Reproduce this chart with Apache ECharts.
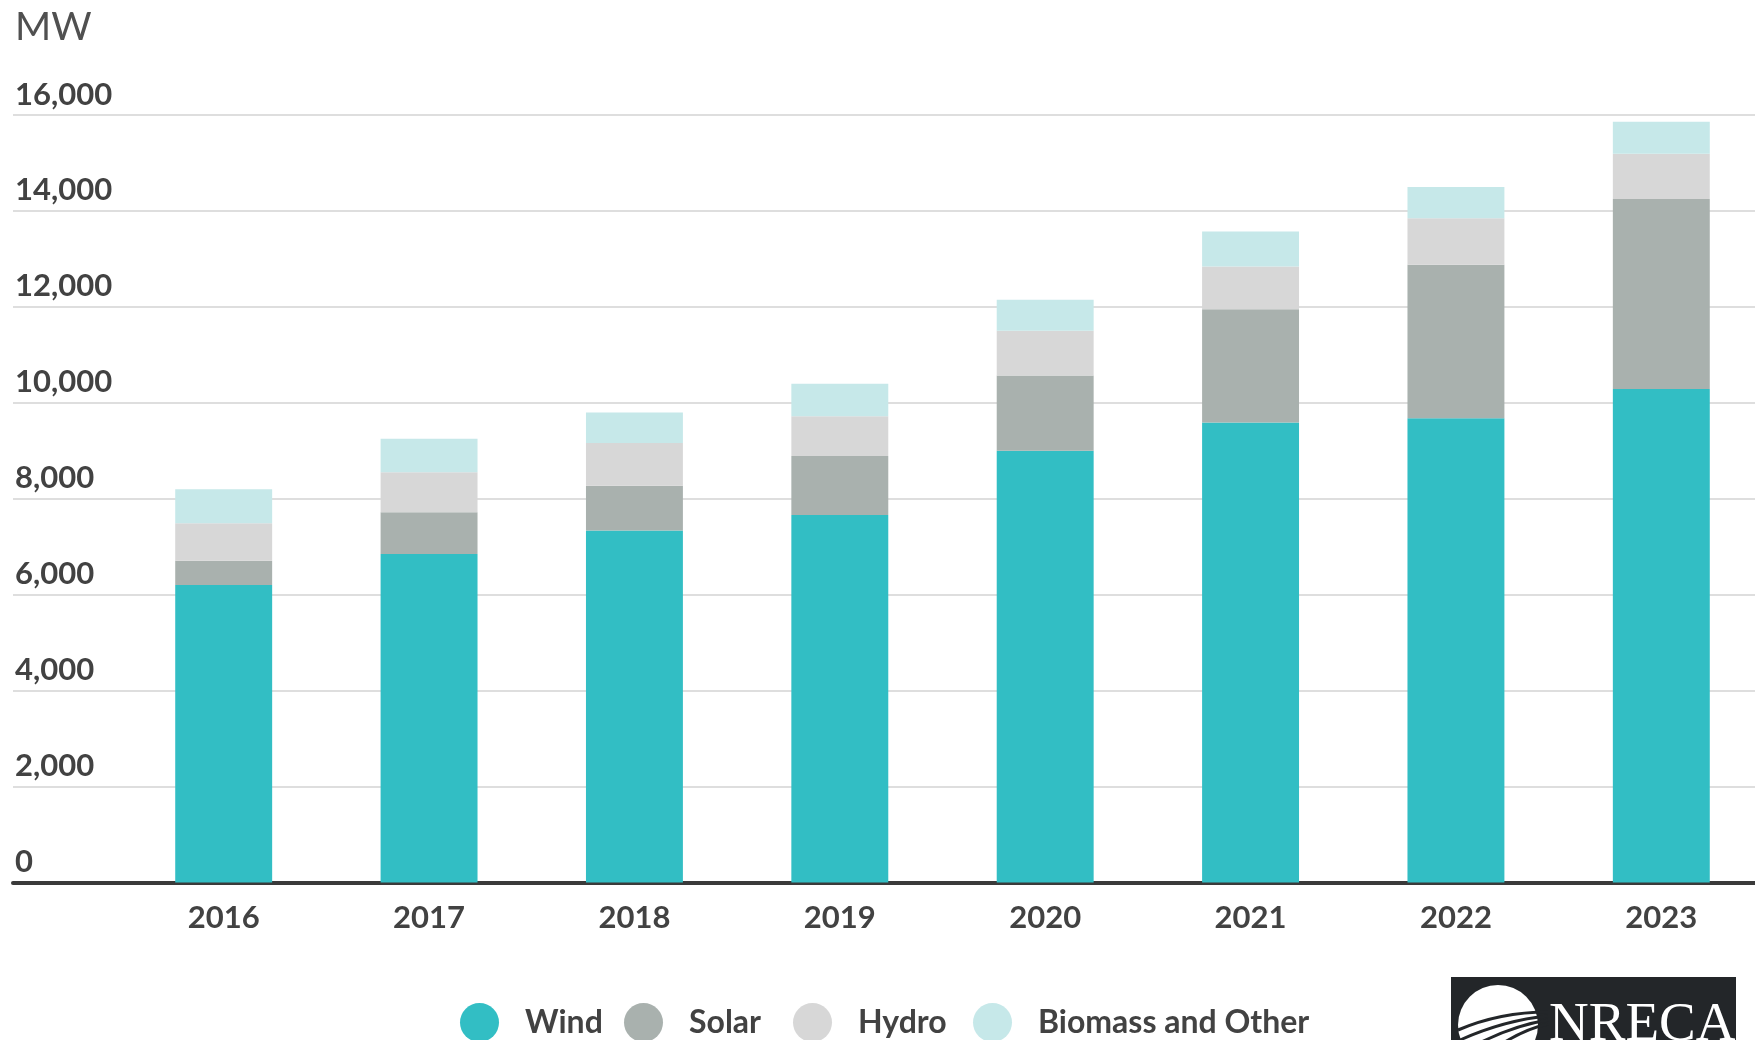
<!DOCTYPE html>
<html>
<head>
<meta charset="utf-8">
<script src="https://cdn.jsdelivr.net/npm/echarts@6/dist/echarts.min.js"></script>
<style>
html,body{margin:0;padding:0;background:#fff;overflow:hidden;width:1755px;height:1040px;}
#chart{width:1764px;height:1040px;}
</style>
</head>
<body>
<div id="chart"></div>
<script>
const years = ['2016','2017','2018','2019','2020','2021','2022','2023'];
const wind    = [6200, 6850, 7340, 7660, 9000, 9590, 9680, 10290];
const solar   = [510, 870, 930, 1230, 1570, 2360, 3200, 3960];
const hydro   = [780, 830, 890, 830, 930, 890, 970, 940];
const biomass = [710, 700, 640, 680, 650, 730, 650, 670];
const seriesNames = ['Wind', 'Solar', 'Hydro', 'Biomass and Other'];
const yTicks = {min: 0, max: 16000, interval: 2000};
const unitLabel = 'MW';

const colors = ['#32bec4', '#a9b1ae', '#d7d7d7', '#c6e8e9'];
const FONT = 'Lato, "Noto Sans", sans-serif';
const TEXT = '#424242';

const chart = echarts.init(document.getElementById('chart'), null, {renderer: 'canvas'});

const seriesData = [wind, solar, hydro, biomass];
const series = seriesNames.map((name, i) => ({
  name: name,
  type: 'bar',
  stack: 'total',
  xAxisIndex: 0,
  yAxisIndex: 0,
  barWidth: '47.2%',
  itemStyle: {color: colors[i]},
  emphasis: {disabled: true},
  data: seriesData[i],
  z: 3
}));

const legendLefts = [460, 624, 793, 973];
const legends = seriesNames.map((name, i) => ({
  data: [name],
  left: legendLefts[i],
  top: 1003,
  padding: 0,
  icon: 'circle',
  itemWidth: 39,
  itemHeight: 39,
  selectedMode: false,
  textStyle: {fontFamily: FONT, fontSize: 32, fontWeight: 'bold', color: TEXT, padding: [0, 0, 0, 21]}
}));

const option = {
  animation: false,
  backgroundColor: '#ffffff',
  title: {
    text: unitLabel,
    left: 10,
    top: 3,
    textStyle: {fontFamily: FONT, fontSize: 39, fontWeight: 'normal', color: '#505050'}
  },
  legend: legends,
  grid: [
    {left: 121, right: 0, top: 115, height: 767.5, containLabel: false},
    {left: 13, right: 0, top: 115, height: 767.5, containLabel: false}
  ],
  xAxis: [
    {
      type: 'category', gridIndex: 0, data: years,
      axisLine: {show: false}, axisTick: {show: false},
      axisLabel: {fontFamily: FONT, fontSize: 31, fontWeight: 'bold', color: TEXT, margin: 20}
    },
    {
      type: 'value', gridIndex: 1, min: 0, max: 1,
      axisLine: {show: true, onZero: false, lineStyle: {color: '#3a3a3a', width: 4}},
      axisTick: {show: false}, axisLabel: {show: false}, splitLine: {show: false}
    }
  ],
  yAxis: [
    {
      type: 'value', gridIndex: 0, min: yTicks.min, max: yTicks.max, interval: yTicks.interval,
      show: false, splitLine: {show: false}
    },
    {
      type: 'value', gridIndex: 1, min: yTicks.min, max: yTicks.max, interval: yTicks.interval,
      axisLine: {show: false}, axisTick: {show: false},
      splitLine: {show: true, lineStyle: {color: '#dedede', width: 2}},
      axisLabel: {
        inside: true, margin: 2, align: 'left', verticalAlign: 'bottom',
        padding: [0, 0, 5, 0],
        fontFamily: FONT, fontSize: 31, fontWeight: 'bold', color: TEXT,
        formatter: v => v.toLocaleString('en-US')
      }
    }
  ],
  graphic: [
    {type: 'rect', shape: {x: 1451, y: 977, width: 285, height: 70}, style: {fill: '#232629'}, z: 10},
    {type: 'circle', shape: {cx: 1498, cy: 1025, r: 40}, style: {fill: '#ffffff'}, z: 11},
    {type: 'bezierCurve', shape: {x1: 1458, y1: 1030, cpx1: 1500, cpy1: 1012, x2: 1548, y2: 1012}, style: {stroke: '#232629', lineWidth: 3, fill: null}, z: 12},
    {type: 'bezierCurve', shape: {x1: 1460, y1: 1040, cpx1: 1505, cpy1: 1020, x2: 1548, y2: 1016}, style: {stroke: '#232629', lineWidth: 3, fill: null}, z: 12},
    {type: 'bezierCurve', shape: {x1: 1470, y1: 1048, cpx1: 1510, cpy1: 1026, x2: 1548, y2: 1020}, style: {stroke: '#232629', lineWidth: 3, fill: null}, z: 12},
    {type: 'bezierCurve', shape: {x1: 1490, y1: 1052, cpx1: 1520, cpy1: 1030, x2: 1548, y2: 1024}, style: {stroke: '#232629', lineWidth: 3, fill: null}, z: 12},
    {type: 'text', x: 1549, y: 998, z: 12,
      style: {text: 'NRECA', fill: '#ffffff', fontSize: 55, fontFamily: '"Liberation Serif", "DejaVu Serif", serif', align: 'left', verticalAlign: 'top'}}
  ],
  series: series
};

chart.setOption(option);
</script>
</body>
</html>
